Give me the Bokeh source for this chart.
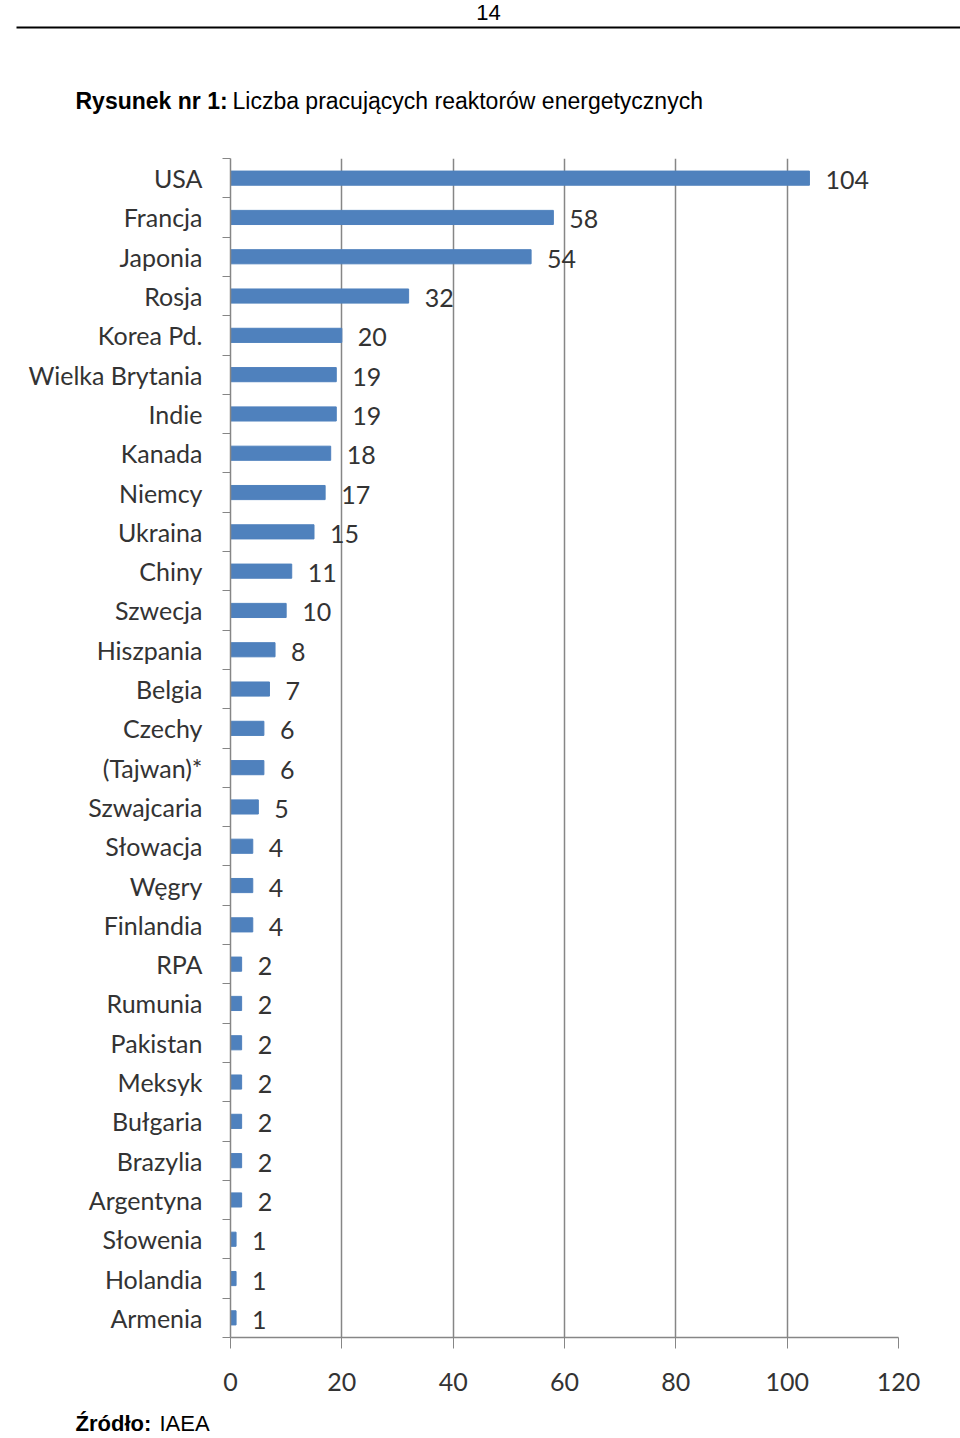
from bokeh.plotting import figure
from bokeh.layouts import column
from bokeh.models import FixedTicker, ColumnDataSource, Range1d
from bokeh.embed import file_html
from bokeh.resources import INLINE
from bokeh.core.properties import value

countries = ["USA", "Francja", "Japonia", "Rosja", "Korea Pd.", "Wielka Brytania", "Indie",
             "Kanada", "Niemcy", "Ukraina", "Chiny", "Szwecja", "Hiszpania", "Belgia",
             "Czechy", "(Tajwan)*", "Szwajcaria", "Słowacja", "Węgry", "Finlandia", "RPA",
             "Rumunia", "Pakistan", "Meksyk", "Bułgaria", "Brazylia", "Argentyna",
             "Słowenia", "Holandia", "Armenia"]
reactors = [104, 58, 54, 32, 20, 19, 19, 18, 17, 15, 11, 10, 8, 7, 6, 6, 5, 4, 4, 4,
            2, 2, 2, 2, 2, 2, 2, 1, 1, 1]
x_ticks = [0, 20, 40, 60, 80, 100, 120]

title_bold = "Rysunek nr 1:"
title_rest = "Liczba pracujących reaktorów energetycznych"
page_no = "14"
source_bold = "Źródło:"
source_rest = "IAEA"

W = 960
H_HEAD, H_FOOT = 130, 30
H_CHART = 1438 - H_HEAD - H_FOOT

GRAY = "#868686"
TXT = "#333333"
CFONT = "Lato"
CSIZE = "25px"
PFONT = "Liberation Sans"


def blank(height):
    f = figure(width=W, height=height, x_range=Range1d(0, W), y_range=Range1d(height, 0),
               output_backend="svg", toolbar_location=None, min_border=0,
               x_axis_location=None, y_axis_location=None, outline_line_color=None)
    f.grid.visible = False
    return f


# ---- header: page number, rule, caption
head = blank(H_HEAD)
head.text(x=[488], y=[12], text=[page_no], text_align="center", text_baseline="alphabetic",
          text_font=value(PFONT), text_font_size="22px", text_color="black")
head.segment(x0=[16], y0=[27], x1=[W], y1=[27], line_color="black", line_width=2)
head.text(x=[75], y=[100], text=[title_bold], text_baseline="alphabetic",
          text_font=value(PFONT), text_font_style="bold", text_font_size="23px",
          text_color="black")
head.text(x=[232], y=[100], text=[title_rest], text_baseline="alphabetic",
          text_font=value(PFONT), text_font_size="23px", text_color="black")

# ---- chart
n = len(countries)
ypos = [n - 1 - i for i in range(n)]
src = ColumnDataSource(dict(y=ypos, v=reactors, lbl=[str(v) for v in reactors]))

p = figure(width=W, height=H_CHART, x_range=Range1d(0, 120), y_range=Range1d(-0.5, n - 0.5),
           output_backend="svg", toolbar_location=None,
           min_border_left=230, min_border_right=62, min_border_top=158 - H_HEAD,
           min_border_bottom=(H_HEAD + H_CHART) - 1337,
           outline_line_color=None)

p.hbar(y="y", right="v", left=0, height=0.36, source=src, color="#4F81BD")
p.text(x="v", y="y", text="lbl", source=src, x_offset=16, y_offset=2, text_baseline="middle",
       text_font=value(CFONT), text_font_size=CSIZE, text_color=TXT)

ya = p.yaxis[0]
ya.ticker = FixedTicker(ticks=ypos, minor_ticks=[k - 0.5 for k in range(n + 1)])
ya.major_label_overrides = {y: c for y, c in zip(ypos, countries)}
ya.major_tick_line_color = None
ya.major_tick_out = 0
ya.major_tick_in = 0
ya.minor_tick_line_color = GRAY
ya.minor_tick_out = 8
ya.minor_tick_in = 0
ya.axis_line_color = GRAY
ya.axis_line_width = 1.5
ya.major_label_standoff = 20
ya.major_label_text_font = CFONT
ya.major_label_text_font_size = CSIZE
ya.major_label_text_color = TXT

xa = p.xaxis[0]
xa.ticker = FixedTicker(ticks=x_ticks)
xa.major_tick_out = 11
xa.major_tick_in = 0
xa.major_tick_line_color = GRAY
xa.minor_tick_line_color = None
xa.axis_line_color = GRAY
xa.axis_line_width = 1.5
xa.major_label_standoff = 24
xa.major_label_text_font = CFONT
xa.major_label_text_font_size = CSIZE
xa.major_label_text_color = TXT

p.xgrid.ticker = FixedTicker(ticks=x_ticks)
p.xgrid.grid_line_color = GRAY
p.xgrid.grid_line_width = 1.5
p.ygrid.grid_line_color = None

# ---- footer: source
foot = blank(H_FOOT)
foot.text(x=[75], y=[15], text=[source_bold], text_baseline="alphabetic",
          text_font=value(PFONT), text_font_style="bold", text_font_size="22px",
          text_color="black")
foot.text(x=[159], y=[15], text=[source_rest], text_baseline="alphabetic",
          text_font=value(PFONT), text_font_size="22px", text_color="black")

layout = column(column(head), column(p), column(foot), spacing=0)
open("out.html", "w").write(file_html(layout, INLINE))
